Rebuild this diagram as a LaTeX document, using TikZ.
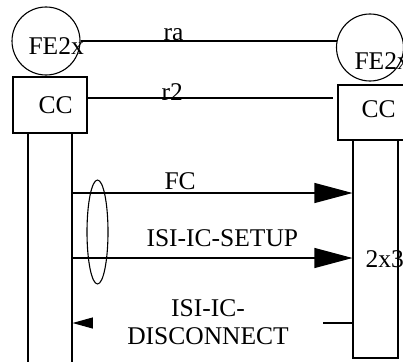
\documentclass[tikz,border=0pt]{standalone}
\usepackage{fontspec}
\setmainfont{Liberation Serif}
\usetikzlibrary{arrows.meta,shapes.geometric}
\tikzset{
 lbl/.style={font=\fontsize{25.5}{28}\selectfont, inner sep=0pt, anchor=base west},
 box/.style={draw, line width=1.1pt, inner sep=0pt},
 msg/.style={line width=1.1pt, -{Triangle[length=38pt,width=20pt]}},
}
\begin{document}
\begin{tikzpicture}[x=1pt,y=-1pt,line width=1.1pt]
 \useasboundingbox (0,0) rectangle (403,361);
 % entities and lifelines
 \node[box, circle, minimum size=68pt] (feL) at (46,41) {};
 \node[box, circle, minimum size=67pt] (feR) at (370,47.5) {};
 \node[box, minimum width=74pt, minimum height=56pt] (ccL) at (50,105) {};
 \node[box, minimum width=74pt, minimum height=55pt] (ccR) at (375,112.5) {};
 \node[box, minimum width=44pt, minimum height=237pt] (llL) at (50,251.5) {};
 \node[box, minimum width=45pt, minimum height=218pt] (llR) at (375.5,249) {};

 \node[lbl] (feLt) at (28,54) {FE2x};
 \node[lbl] (feRt) at (354,69) {FE2x};
 \node[lbl] (ccLt) at (38,113) {CC};
 \node[lbl] (ccRt) at (361,117) {CC};
 \node[lbl] (ra) at (163,41) {ra};
 \node[lbl] (r2) at (161,100) {r2};

 \draw (feL.east) -- ([xshift=1pt]feR.west |- feL.east);
 \coordinate (r2end) at (333,98);
 \draw (ccL.east |- r2end) -- (r2end);

 % messages
 \coordinate (yfc) at (0,193);
 \coordinate (ysetup) at (0,258);
 \coordinate (ydisc) at (0,323);
 \draw[msg] (llL.east |- yfc) -- (llR.west |- yfc);
 \draw[msg] (llL.east |- ysetup) -- (llR.west |- ysetup);
 \draw[line width=1.1pt, -{Triangle[length=24pt,width=13pt]}] (llR.west |- ydisc) -- (llL.east |- ydisc);
 \node[lbl] (fc) at (164,189) {FC};
 \node[lbl] (setup) at (146,246) {ISI-IC-SETUP};
 \node[lbl] (twoxthree) at (365,267) {2x3};
 \node[font=\fontsize{25.5}{28}\selectfont, fill=white, text width=230pt, align=center, inner sep=0pt] (disc) at (208,322) {ISI-IC-\\DISCONNECT};
 \node[box, ellipse, minimum width=21pt, minimum height=104pt] (grp) at (97.5,232) {};
\end{tikzpicture}
\end{document}
